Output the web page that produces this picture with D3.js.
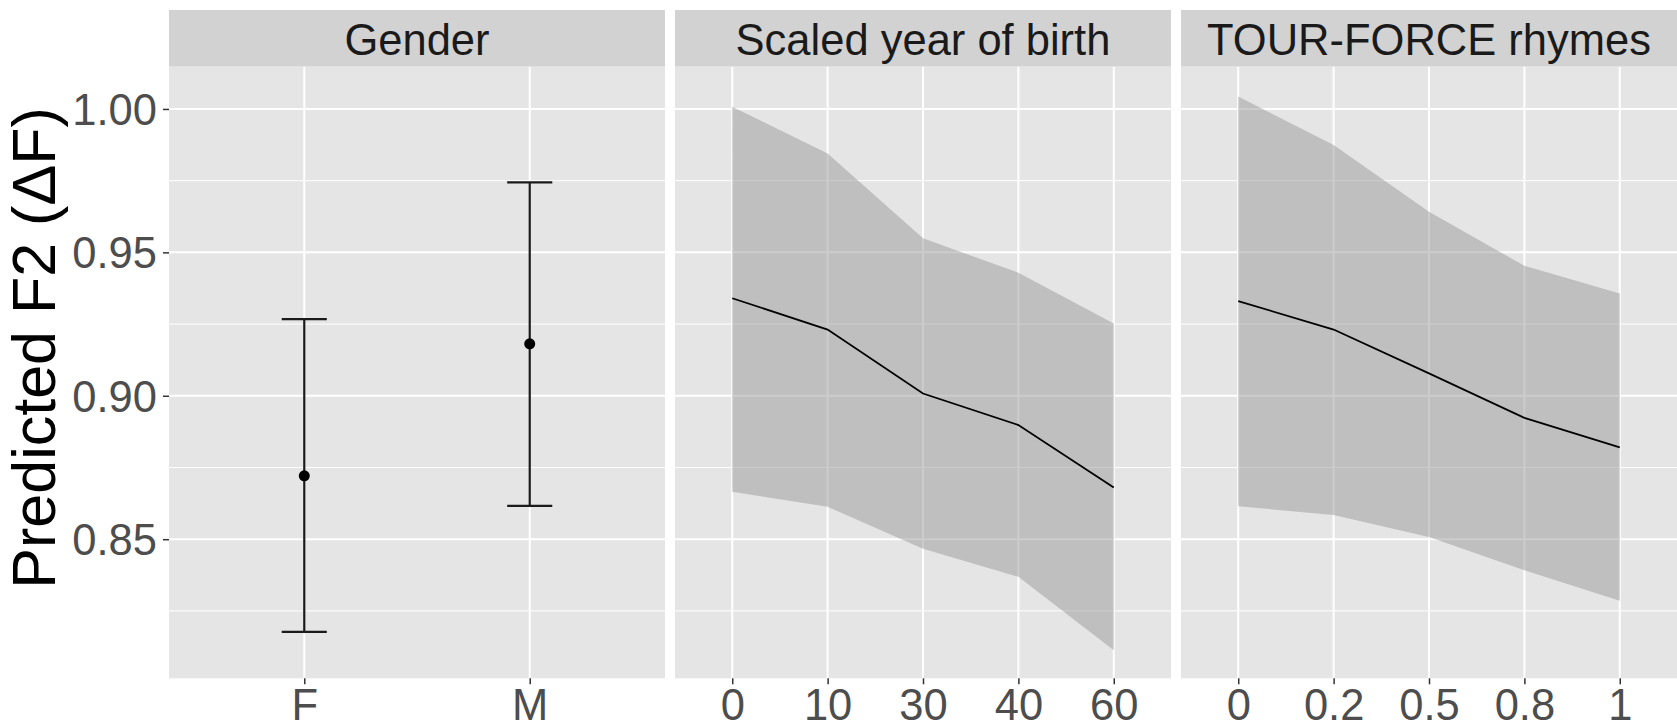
<!DOCTYPE html>
<html>
<head>
<meta charset="utf-8">
<script src="https://cdn.jsdelivr.net/npm/d3@7"></script>
<style>
  html, body { margin: 0; padding: 0; background: #ffffff; }
  svg { display: block; }
  text { font-family: "Liberation Sans", Arial, Helvetica, sans-serif; }
</style>
</head>
<body>
<svg id="chart" width="1677" height="724"></svg>
<script>
// Facet titles
const facets = ["Gender", "Scaled year of birth", "TOUR-FORCE rhymes"];

// Gender: point estimate with confidence interval
const genderLevels = ["F", "M"];
const genderFit = [0.8721, 0.9181];
const genderLower = [0.8177, 0.8616];
const genderUpper = [0.9267, 0.9744];

// Scaled year of birth: fitted line with confidence band
const birthLevels = ["0", "10", "30", "40", "60"];
const birthFit = [0.9340, 0.9231, 0.9008, 0.8898, 0.8680];
const birthLower = [0.8665, 0.8613, 0.8467, 0.8369, 0.8113];
const birthUpper = [1.0008, 0.9845, 0.9549, 0.9429, 0.9252];

// TOUR-FORCE rhymes: fitted line with confidence band
const rhymeLevels = ["0", "0.2", "0.5", "0.8", "1"];
const rhymeFit = [0.9330, 0.9231, 0.9078, 0.8923, 0.8820];
const rhymeLower = [0.8615, 0.8584, 0.8508, 0.8392, 0.8285];
const rhymeUpper = [1.0043, 0.9874, 0.9642, 0.9453, 0.9357];

// y axis
const yMajor = [0.85, 0.90, 0.95, 1.00];
const yMinor = [0.825, 0.875, 0.925, 0.975];
const yDomain = [0.8015, 1.0148];
const yTitle = "Predicted F2 (\u0394F)";

// ---- layout ----
const panelLefts = [169, 675, 1181];
const panelW = 496;
const panelTop = 66.5;
const panelBottom = 678.3;
const stripTop = 10;
const fontSize = 43.5;

const colors = {
  panel: "#E5E5E5",
  strip: "#D2D2D2",
  grid: "#FFFFFF",
  ribbon: "#999999",
  tickText: "#4D4D4D",
  tick: "#333333",
  stripText: "#1A1A1A"
};

const svg = d3.select("#chart");

const y = d3.scaleLinear().domain(yDomain).range([panelBottom, panelTop]);

function makeX(levels, left) {
  return d3.scalePoint().domain(levels).range([left, left + panelW]).padding(0.6);
}

const panels = [
  { title: facets[0], x: makeX(genderLevels, panelLefts[0]), levels: genderLevels },
  { title: facets[1], x: makeX(birthLevels, panelLefts[1]), levels: birthLevels },
  { title: facets[2], x: makeX(rhymeLevels, panelLefts[2]), levels: rhymeLevels }
];

panels.forEach((p, i) => {
  const left = panelLefts[i];
  const g = svg.append("g");

  // panel background
  g.append("rect")
    .attr("x", left).attr("y", panelTop)
    .attr("width", panelW).attr("height", panelBottom - panelTop)
    .attr("fill", colors.panel);

  // minor horizontal grid
  g.selectAll(".gminor").data(yMinor).join("line")
    .attr("x1", left).attr("x2", left + panelW)
    .attr("y1", d => y(d)).attr("y2", d => y(d))
    .attr("stroke", colors.grid).attr("stroke-width", 1);

  // major horizontal grid
  g.selectAll(".gmajor").data(yMajor).join("line")
    .attr("x1", left).attr("x2", left + panelW)
    .attr("y1", d => y(d)).attr("y2", d => y(d))
    .attr("stroke", colors.grid).attr("stroke-width", 2);

  // vertical grid at each category
  g.selectAll(".gx").data(p.levels).join("line")
    .attr("x1", d => p.x(d)).attr("x2", d => p.x(d))
    .attr("y1", panelTop).attr("y2", panelBottom)
    .attr("stroke", colors.grid).attr("stroke-width", 2);

  // strip
  g.append("rect")
    .attr("x", left).attr("y", stripTop)
    .attr("width", panelW).attr("height", panelTop - stripTop)
    .attr("fill", colors.strip);
  g.append("text")
    .attr("x", left + panelW / 2).attr("y", 54.5)
    .attr("text-anchor", "middle")
    .attr("font-size", fontSize)
    .attr("fill", colors.stripText)
    .text(p.title);

  // x axis
  const xAxis = svg.append("g")
    .attr("transform", `translate(0,${panelBottom})`)
    .call(d3.axisBottom(p.x).tickSize(6).tickPadding(5));
  xAxis.select(".domain").remove();
  xAxis.selectAll(".tick line").attr("stroke", colors.tick).attr("stroke-width", 1.5);
  xAxis.selectAll(".tick text")
    .attr("font-size", fontSize)
    .attr("font-family", "Liberation Sans, Arial, sans-serif")
    .attr("fill", colors.tickText)
    .attr("dy", "0.71em");
});

// y axis on the first panel
const yAxis = svg.append("g")
  .attr("transform", `translate(${panelLefts[0]},0)`)
  .call(d3.axisLeft(y).tickValues(yMajor).tickFormat(d3.format(".2f")).tickSize(6).tickPadding(6));
yAxis.select(".domain").remove();
yAxis.selectAll(".tick line").attr("stroke", colors.tick).attr("stroke-width", 1.5);
yAxis.selectAll(".tick text")
  .attr("font-size", fontSize)
  .attr("font-family", "Liberation Sans, Arial, sans-serif")
  .attr("fill", colors.tickText)
  .attr("dy", "0.358em");

// y axis title
svg.append("text")
  .attr("transform", "translate(55,348) rotate(-90)")
  .attr("text-anchor", "middle")
  .attr("font-size", 61)
  .attr("fill", "#000000")
  .text(yTitle);

// ---- Gender: error bars and points ----
const gx = panels[0].x;
const capHalf = gx.step() * 0.1;
const gData = genderLevels.map((k, i) => ({ k, fit: genderFit[i], lo: genderLower[i], hi: genderUpper[i] }));
const eb = svg.append("g").attr("stroke", "#1A1A1A").attr("stroke-width", 2.2);
eb.selectAll(".v").data(gData).join("line")
  .attr("x1", d => gx(d.k)).attr("x2", d => gx(d.k))
  .attr("y1", d => y(d.lo)).attr("y2", d => y(d.hi));
eb.selectAll(".ct").data(gData).join("line")
  .attr("x1", d => gx(d.k) - capHalf).attr("x2", d => gx(d.k) + capHalf)
  .attr("y1", d => y(d.hi)).attr("y2", d => y(d.hi));
eb.selectAll(".cb").data(gData).join("line")
  .attr("x1", d => gx(d.k) - capHalf).attr("x2", d => gx(d.k) + capHalf)
  .attr("y1", d => y(d.lo)).attr("y2", d => y(d.lo));
svg.append("g").selectAll("circle").data(gData).join("circle")
  .attr("cx", d => gx(d.k)).attr("cy", d => y(d.fit))
  .attr("r", 5.5).attr("fill", "#000000");

// ---- band + line panels ----
function drawBand(panel, levels, fit, lower, upper) {
  const data = levels.map((k, i) => ({ k, fit: fit[i], lo: lower[i], hi: upper[i] }));
  const area = d3.area()
    .x(d => panel.x(d.k))
    .y0(d => y(d.lo))
    .y1(d => y(d.hi));
  svg.append("path").datum(data)
    .attr("d", area)
    .attr("fill", colors.ribbon)
    .attr("fill-opacity", 0.5);
  const line = d3.line().x(d => panel.x(d.k)).y(d => y(d.fit));
  svg.append("path").datum(data)
    .attr("d", line)
    .attr("fill", "none")
    .attr("stroke", "#000000")
    .attr("stroke-width", 1.8);
}
drawBand(panels[1], birthLevels, birthFit, birthLower, birthUpper);
drawBand(panels[2], rhymeLevels, rhymeFit, rhymeLower, rhymeUpper);
</script>
</body>
</html>
